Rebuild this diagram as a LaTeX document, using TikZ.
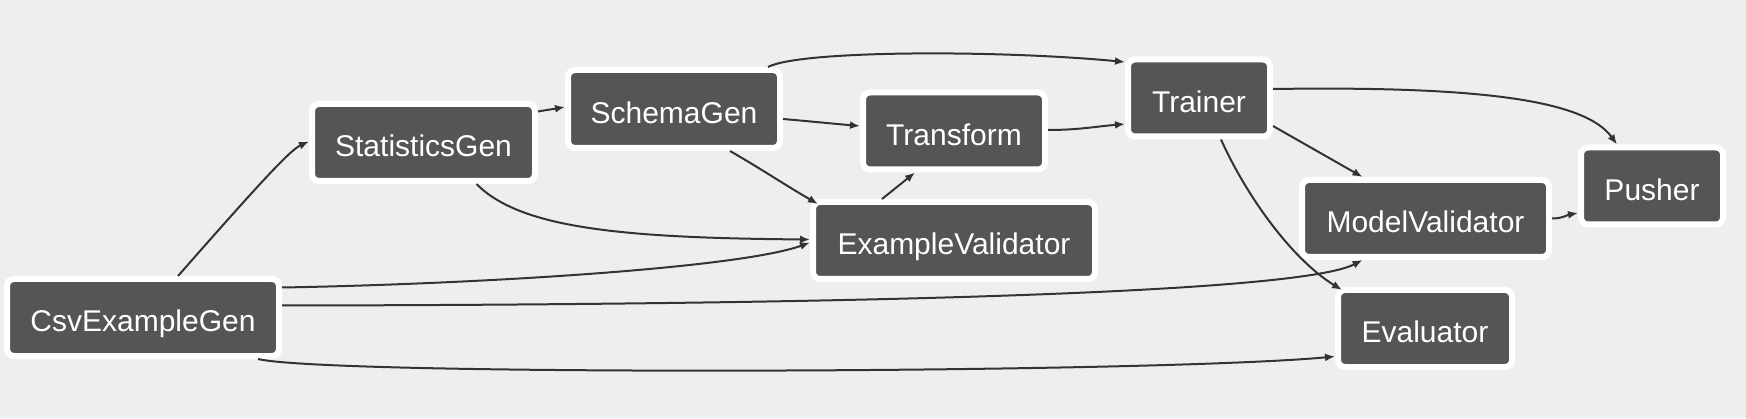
\documentclass[tikz,border=0pt]{standalone}
\usepackage{fontspec}
\setmainfont{Liberation Sans}
\usetikzlibrary{arrows.meta}
\definecolor{pagegrey}{RGB}{238,238,238}

\begin{document}
\begin{tikzpicture}[x=1pt,y=1pt,>={Latex[length=10pt,width=8pt]},
  comp/.style={draw=white,line width=6pt,fill=boxgrey,rounded corners=7pt,text=white,inner sep=0pt,
    minimum height=77pt,text height=36pt,text depth=7pt,font=\fontsize{30}{36}\selectfont},
  flow/.style={->,wire,line width=2pt}]
\definecolor{boxgrey}{RGB}{85,85,85}\definecolor{wire}{RGB}{51,51,51}
\fill[pagegrey] (0,0) rectangle (1746,418);
\useasboundingbox (0,0) rectangle (1746,418);
% components
\node[comp,minimum width=272pt] (csv) at (143,100.5) {CsvExampleGen};
\node[comp,minimum width=223pt] (stats) at (423.5,275.5) {StatisticsGen};
\node[comp,minimum width=212pt,minimum height=78pt] (schema) at (674,309) {SchemaGen};
\node[comp,minimum width=182pt] (trans) at (954,287) {Transform};
\node[comp,minimum width=282pt] (exval) at (954,177.5) {ExampleValidator};
\node[comp,minimum width=142pt] (trainer) at (1199,320) {Trainer};
\node[comp,minimum width=247pt] (modval) at (1425.5,199.5) {ModelValidator};
\node[comp,minimum width=174pt] (ev) at (1425,89.5) {Evaluator};
\node[comp,minimum width=142pt] (pusher) at (1652,232) {Pusher};
% data analysis
\draw[flow] ([xshift=35pt]csv.north) .. controls (258,233) and (290,268) .. ([yshift=1pt]stats.west);
\draw[flow] ([yshift=31pt]stats.east) to[out=10,in=190] ([yshift=2pt]schema.west);
\draw[flow] ([xshift=53pt]stats.south) .. controls (520,190) and (620,180) .. ([yshift=1pt]exval.west);
\draw[flow] ([xshift=56pt]schema.south) to[out=-30,in=150] ([xshift=8pt,yshift=-5pt]exval.north west);
\draw[flow] ([yshift=30pt]csv.east) .. controls (480,134) and (740,150) .. ([yshift=-2pt]exval.west);
% transform and training
\draw[flow] ([yshift=-10pt]schema.east) to[out=-5,in=175] ([yshift=5pt]trans.west);
\draw[flow] ([xshift=-72pt]exval.north) -- ([xshift=-39pt]trans.south);
\draw[flow] ([xshift=94pt]schema.north) .. controls (800,368) and (1000,368) .. ([yshift=36pt]trainer.west);
\draw[flow] ([yshift=1pt]trans.east) to[out=0,in=185] ([yshift=-26pt]trainer.west);
% validation and push
\draw[flow] ([yshift=12pt]csv.east) .. controls (700,113) and (1290,120) .. ([xshift=-63pt]modval.south);
\draw[flow] ([xshift=115pt]csv.south) .. controls +(70pt,-17pt) and +(-185pt,-17pt) .. ([yshift=-28pt]ev.west);
\draw[flow] ([yshift=-28pt]trainer.east) -- ([xshift=-63pt]modval.north);
\draw[flow] ([xshift=22pt]trainer.south) .. controls (1245,225) and (1290,160) .. ([xshift=7pt,yshift=-3pt]ev.north west);
\draw[flow] ([yshift=9pt]trainer.east) .. controls (1480,332) and (1585,318) .. ([xshift=-35pt]pusher.north);
\draw[flow] (modval.east) to[out=0,in=190] ([yshift=-27pt]pusher.west);
\end{tikzpicture}
\end{document}
